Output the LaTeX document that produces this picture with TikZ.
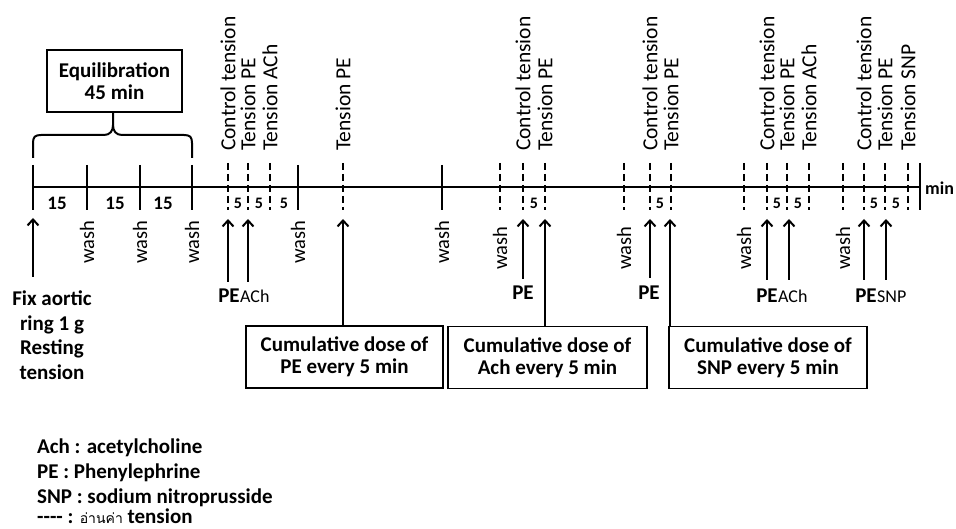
\documentclass[tikz,border=0pt]{standalone}
\usepackage{fontspec}
\setmainfont{Carlito}
\newfontfamily\thaifont[Script=Thai]{Loma}
\usetikzlibrary{arrows.meta}
\begin{document}
\begin{tikzpicture}[x=1pt,y=-1pt,
  vlab/.style={rotate=90,anchor=west,inner sep=0pt,font=\fontsize{21.5}{24}\selectfont},
  washlab/.style={rotate=90,anchor=west,inner sep=0pt,font=\fontsize{20.5}{24}\selectfont},
  num/.style={inner sep=0pt,font=\bfseries\fontsize{19}{22}\selectfont},
  five/.style={inner sep=0pt,font=\bfseries\fontsize{16}{18}\selectfont},
  tk/.style={line width=2.2pt},
  dtk/.style={line width=2.2pt,dash pattern=on 7pt off 4pt},
  arr/.style={line width=2pt,-{Straight Barb[length=6pt,width=11pt,line width=2pt]}},
  boxst/.style={draw,line width=1.6pt,align=center,inner sep=0pt,minimum height=62pt,
    font=\bfseries\fontsize{21}{22}\selectfont},
  pelab/.style={inner sep=0pt,font=\bfseries\fontsize{21}{24}\selectfont},
  druglab/.style={inner sep=0pt,anchor=base west,font=\fontsize{18}{20}\selectfont},
  bold/.style={inner sep=0pt,font=\bfseries\fontsize{21}{24.5}\selectfont},
  legend/.style={inner sep=0pt,anchor=base west,font=\bfseries\fontsize{21}{24}\selectfont}
]
\useasboundingbox (0,0) rectangle (956,529);

% timeline
\coordinate (tl0) at (33,187);
\coordinate (tl1) at (920,187);
\draw[line width=2.8pt] (tl0) -- (tl1);
\node[inner sep=0pt,anchor=west,font=\bfseries\fontsize{18}{20}\selectfont] (minlab) at (925,188) {min};

% solid ticks
\foreach \x in {33,87,140,192,298,442}
  \draw[tk] (\x,165) -- (\x,210);
\draw[tk] (920,163) -- (920,210);
% dashed ticks
\foreach \x in {228,248,270,343,500,523,545,624,650,671,744,767,787,809,843,864,885,908}
  \draw[dtk] (\x,163) -- (\x,210);

% interval numbers
\foreach \x in {57,115,163}
  \node[num] at (\x,203) {15};
\foreach \x in {238,259,284,534,660,777,798,874,896}
  \node[five] at (\x,203) {5};

% labels above
\foreach \x in {228,523,650,767,864}
  \node[vlab] at (\x,151) {Control tension};
\foreach \x in {248,343,545,671,787,885}
  \node[vlab] at (\x,151) {Tension PE};
\foreach \x in {270,809}
  \node[vlab] at (\x,151) {Tension ACh};
\node[vlab] (tsnp) at (908,151) {Tension SNP};

% wash labels
\foreach \x in {87,140,192,298,442}
  \node[washlab] at (\x,264) {wash};
\foreach \x in {500,624,744,843}
  \node[washlab] at (\x,270) {wash};

% equilibration
\node[boxst,minimum width=135pt] (eq) at (114.5,81) {Equilibration\\45 min};
\draw[line width=2pt] (33,158) -- (33,143) .. controls (33,137) and (35,135) .. (41,135)
  -- (104,135) .. controls (110,135) and (113,131) .. (113,125) -- (eq.south -| 113,0);
\draw[line width=2pt] (192,158) -- (192,143) .. controls (192,137) and (190,135) .. (184,135)
  -- (122,135) .. controls (116,135) and (113,131) .. (113,125);

% fix aortic
\node[bold,align=center] (fix) at (52,335) {Fix aortic\\ring 1 g\\Resting\\tension};
\coordinate (fixb) at (33,277);
\coordinate (fixt) at (33,218);
\draw[arr] (fixb) -- (fixt);

% PE / drug labels
\node[pelab] (pe1) at (229,296) {PE};
\node[druglab] (ach1) at (pe1.base east) {ACh};
\node[pelab] (pe2) at (523,293) {PE};
\node[pelab] (pe3) at (649,293) {PE};
\node[pelab] (pe4) at (767,296) {PE};
\node[druglab] (ach2) at (pe4.base east) {ACh};
\node[pelab] (pe5) at (866,296) {PE};
\node[druglab] (snp) at (pe5.base east) {SNP};

% boxes
\node[boxst,minimum width=197pt] (b1) at (344.5,357) {Cumulative dose of\\PE every 5 min};
\node[boxst,minimum width=199pt] (b2) at (547.5,357.5) {Cumulative dose of\\Ach every 5 min};
\node[boxst,minimum width=198pt] (b3) at (768,357.5) {Cumulative dose of\\SNP every 5 min};

% arrows
\foreach \x/\b in {228/282,248/282,523/279,650/278,767/280,789/280,864/280,886/280}{
  \coordinate (ab\x) at (\x,\b);
  \coordinate (at\x) at (\x,219);
  \draw[arr] (ab\x) -- (at\x);
}
\coordinate (at343) at (343,219);
\coordinate (at545) at (545,219);
\coordinate (at670) at (670,219);
\draw[arr] (b1.north -| at343) -- (at343);
\draw[arr] (b2.north -| at545) -- (at545);
\draw[arr] (b3.north -| at670) -- (at670);

% legend
\node[legend] (l1) at (37,453) {Ach : acetylcholine};
\node[legend] (l2) at (37,478) {PE : Phenylephrine};
\node[legend] (l3) at (37,503) {SNP : sodium nitroprusside};
\node[legend] (l4) at (37,523) {-\kern0pt-\kern0pt-\kern0pt- : \raisebox{0pt}[0pt][0pt]{\thaifont\mdseries\fontsize{14}{14}\selectfont อ่านค่า} tension};
\end{tikzpicture}
\end{document}
